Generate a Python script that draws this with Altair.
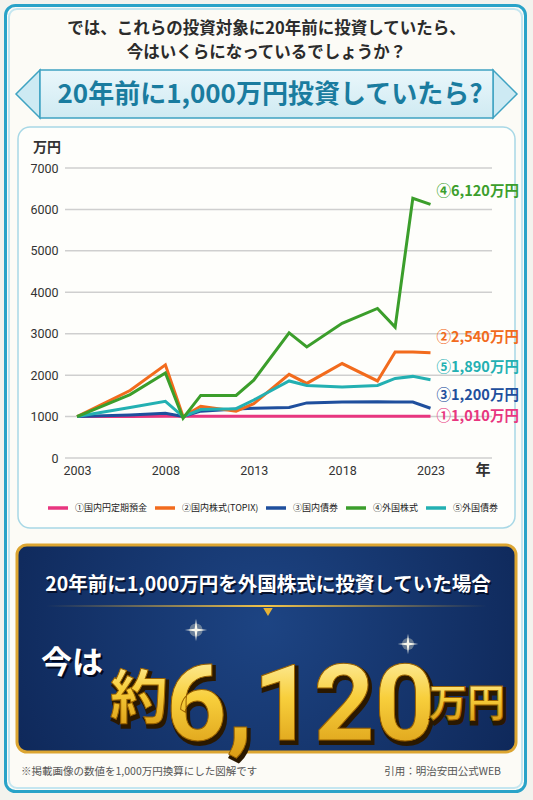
import altair as alt
import pandas as pd

# ---- data (万円, 1,000万円 invested in 2003) ----
years = [2003, 2006, 2008, 2009, 2010, 2012, 2013, 2015, 2016, 2018, 2020, 2021, 2022, 2023]
deposit = [1000, 1000, 1005, 1005, 1010, 1010, 1010, 1010, 1010, 1010, 1010, 1010, 1010, 1010]
topix = [1000, 1630, 2250, 1000, 1250, 1130, 1310, 2020, 1800, 2280, 1860, 2560, 2560, 2540]
jp_bond = [1000, 1040, 1080, 1000, 1130, 1180, 1200, 1220, 1330, 1350, 1360, 1350, 1350, 1200]
fx_stock = [1000, 1530, 2050, 960, 1510, 1510, 1880, 3020, 2680, 3250, 3610, 3160, 6270, 6120]
fx_bond = [1000, 1220, 1370, 1000, 1170, 1190, 1400, 1860, 1750, 1715, 1750, 1920, 1970, 1890]

series_names = ["①国内円定期預金", "②国内株式(TOPIX)", "③国内債券", "④外国株式", "⑤外国債券"]
series_values = [deposit, topix, jp_bond, fx_stock, fx_bond]
series_colors = ["#e8367f", "#f26b1d", "#1f4f9d", "#3b9e2b", "#23b0b2"]
end_labels = ["①1,010万円", "②2,540万円", "③1,200万円", "④6,120万円", "⑤1,890万円"]
draw_order = [0, 2, 1, 4, 3]

y_ticks = [0, 1000, 2000, 3000, 4000, 5000, 6000, 7000]
x_ticks = [2003, 2008, 2013, 2018, 2023]

title_lines = ["では、これらの投資対象に20年前に投資していたら、", "今はいくらになっているでしょうか？"]
banner_text = "20年前に1,000万円投資していたら?"
box_title = "20年前に1,000万円を外国株式に投資していた場合"
note_left = "※掲載画像の数値を1,000万円換算にした図解です"
note_right = "引用：明治安田公式WEB"

JP = "Noto Sans CJK JP"
PLOT_W, PLOT_H = 427, 290
OX, OY = 65, 168  # plot origin on the page

rows = []
for i in draw_order:
    for yr, v in zip(years, series_values[i]):
        rows.append({"series": series_names[i], "year": yr, "value": v})
lines_df = pd.DataFrame(rows)
one = pd.DataFrame({"k": [0]})


def X(px):
    return alt.value(px - OX)


def Y(py):
    return alt.value(py - OY)


def box(x1, y1, x2, y2, **mark):
    return alt.Chart(one).mark_rect(**mark).encode(x=X(x1), x2=X(x2), y=Y(y1), y2=Y(y2))


def text(t, x, y, **mark):
    return alt.Chart(one).mark_text(text=t, **mark).encode(x=X(x), y=Y(y))


def symbol(x, y, **mark):
    mark.setdefault("opacity", 1)
    return alt.Chart(one).mark_point(**mark).encode(x=X(x), y=Y(y))


def vgrad(*stops):
    return alt.LinearGradient(gradient="linear", x1=0, x2=0, y1=0, y2=1,
                              stops=[alt.GradientStop(color=c, offset=o) for o, c in stops])


def hgrad(*stops):
    return alt.LinearGradient(gradient="linear", x1=0, x2=1, y1=0, y2=0,
                              stops=[alt.GradientStop(color=c, offset=o) for o, c in stops])


gold = vgrad((0, "#fff7c0"), (0.45, "#f8cf3c"), (1, "#d6950f"))
SPARKLE = "M0,-1L0.12,-0.12L1,0L0.12,0.12L0,1L-0.12,0.12L-1,0L-0.12,-0.12Z"

x_enc = alt.X("year:Q", scale=alt.Scale(domain=[2002.32, 2026.48], nice=False, zero=False),
              axis=alt.Axis(values=x_ticks, format="d", grid=False, domain=False, ticks=False,
                            labelFont="Roboto", labelFontSize=12.5, labelColor="#333",
                            labelPadding=6, title=None, zindex=1))
y_enc = alt.Y("value:Q", scale=alt.Scale(domain=[0, 7000], nice=False, zero=False),
              axis=alt.Axis(values=y_ticks, format="d", grid=False, domain=False, ticks=False,
                            labelFont="Roboto", labelFontSize=12.5, labelColor="#333",
                            labelPadding=7, title=None, zindex=1))

layers = []

# page frame
layers.append(box(5.5, 5.5, 525.5, 791.5, fill="#fcfbf6", stroke="#29a3c8", strokeWidth=3, cornerRadius=10))
layers.append(box(9, 9, 522, 788, fill="#fcfbf6", stroke="#c4e6f0", strokeWidth=2, cornerRadius=8))

# heading
layers.append(text(title_lines[0], 266.5, 29, font=JP, fontSize=16.5, fontWeight="bold", color="#2b2b2b"))
layers.append(text(title_lines[1], 266.5, 53, font=JP, fontSize=16.5, fontWeight="bold", color="#2b2b2b"))

# banner
layers.append(symbol(28, 94, shape="M0.5,-1L-0.5,0L0.5,1Z", size=2304, filled=True,
                     fill="#cdeaf3", stroke="#3fa3c2", strokeWidth=1.5))
layers.append(symbol(505, 94, shape="M-0.5,-1L0.5,0L-0.5,1Z", size=2304, filled=True,
                     fill="#cdeaf3", stroke="#3fa3c2", strokeWidth=1.5))
layers.append(box(40, 70, 493, 118, fill=vgrad((0, "#eaf7fb"), (1, "#cfeaf2")),
                  stroke="#3fa3c2", strokeWidth=1.5))
layers.append(text(banner_text, 270, 95, font=JP, fontSize=26, fontWeight="bold", color="#1a7c9f"))

# chart panel
layers.append(box(18, 127, 515, 528, fill="#fefefb", stroke="#a8d8e6", strokeWidth=1.5, cornerRadius=12))
layers.append(text("万円", 47, 148, font=JP, fontSize=14, fontWeight="bold", color="#333"))
layers.append(text("年", 483, 470, font=JP, fontSize=15, fontWeight="bold", color="#333"))

# horizontal grid
grid_df = pd.DataFrame({"value": y_ticks})
layers.append(alt.Chart(grid_df).mark_rule(color="#cfcfcf", strokeWidth=1.5).encode(
    y=y_enc, x=alt.value(0), x2=alt.value(PLOT_W)))

# series lines
layers.append(alt.Chart(lines_df).mark_line(strokeWidth=3).encode(
    x=x_enc, y=y_enc,
    color=alt.Color("series:N",
                    scale=alt.Scale(domain=series_names, range=series_colors),
                    legend=alt.Legend(orient="none", legendX=-19, legendY=328, direction="horizontal",
                                      title=None, symbolType="stroke", symbolStrokeWidth=3.5,
                                      symbolSize=400, labelFont=JP, labelFontSize=9,
                                      labelColor="#222", labelLimit=0, columnPadding=0,
                                      labelOffset=5, padding=0)),
    detail="series:N"))

# end-of-line value labels
label_dy = [1, -14.5, -12, -12, -12]
for i in range(5):
    lab_df = pd.DataFrame({"year": [years[-1]], "value": [series_values[i][-1]]})
    layers.append(alt.Chart(lab_df).mark_text(
        text=end_labels[i], align="left", dx=6, dy=label_dy[i], font=JP, fontSize=14.5,
        fontWeight="bold", color=series_colors[i]).encode(x=x_enc, y=y_enc))

# result box
layers.append(box(17, 545, 516, 752,
                  fill=alt.RadialGradient(gradient="radial", x1=0.5, y1=0.45, r1=0, x2=0.5, y2=0.45, r2=0.75,
                                          stops=[alt.GradientStop(color="#1d4483", offset=0),
                                                 alt.GradientStop(color="#0a1f4c", offset=1)]),
                  stroke="#dca531", strokeWidth=3, cornerRadius=10))
layers.append(text(box_title, 268, 585, font=JP, fontSize=19.5, fontWeight="bold", color="#06122e",
                   dx=1.5, dy=1.5))
layers.append(text(box_title, 268, 585, font=JP, fontSize=19.5, fontWeight="bold", color="#ffffff"))
layers.append(box(46, 605, 487, 607, fill=hgrad((0, "rgba(220,165,40,0)"), (0.5, "#f2c44a"),
                                                (1, "rgba(220,165,40,0)"))))
layers.append(symbol(268, 612, shape="triangle-down", size=90, filled=True, fill="#e6b236"))

# 今は 約6,120万円
layers.append(text("今は", 72, 664, font=JP, fontSize=31, fontWeight="bold", color="#02081c", dx=2, dy=2))
layers.append(text("今は", 72, 664, font=JP, fontSize=31, fontWeight="bold", color="#ffffff"))

big = [
    ("約", 139, 718, JP, 58, "center"),
    ("6,120", 166, 740, "Roboto", 106, "left"),
    ("万円", 429, 716, JP, 38, "left"),
]
for t, x, y, f, s, a in big:
    layers.append(text(t, x, y, font=f, fontSize=s, fontWeight="bold", align=a, baseline="alphabetic",
                       fill="#2a1800", stroke="#2a1800", strokeWidth=4, dx=2, dy=3))
    layers.append(text(t, x, y, font=f, fontSize=s, fontWeight="bold", align=a, baseline="alphabetic",
                       fill=gold, stroke="#9a6200", strokeWidth=1))

# sparkles on the gold figure
for sx, sy, ss in [(196, 630, 500), (408, 644, 420)]:
    layers.append(symbol(sx, sy, shape="circle", size=ss * 0.35, filled=True, fill="#fff8d8", opacity=0.35))
    layers.append(symbol(sx, sy, shape=SPARKLE, size=ss, filled=True, fill="#fffdf0", opacity=0.95))

# footnotes
layers.append(text(note_left, 21, 772, font=JP, fontSize=10.5, color="#555", align="left"))
layers.append(text(note_right, 501, 772, font=JP, fontSize=10.5, color="#555", align="right"))

chart = alt.layer(*layers).properties(
    width=PLOT_W, height=PLOT_H,
    autosize=alt.AutoSizeParams(type="none"),
    padding={"left": OX, "top": OY, "right": 533 - OX - PLOT_W, "bottom": 800 - OY - PLOT_H},
    background="#f3f3ee",
).configure_view(stroke=None)

chart.save("out.html", embed_options={"renderer": "svg", "actions": False})
